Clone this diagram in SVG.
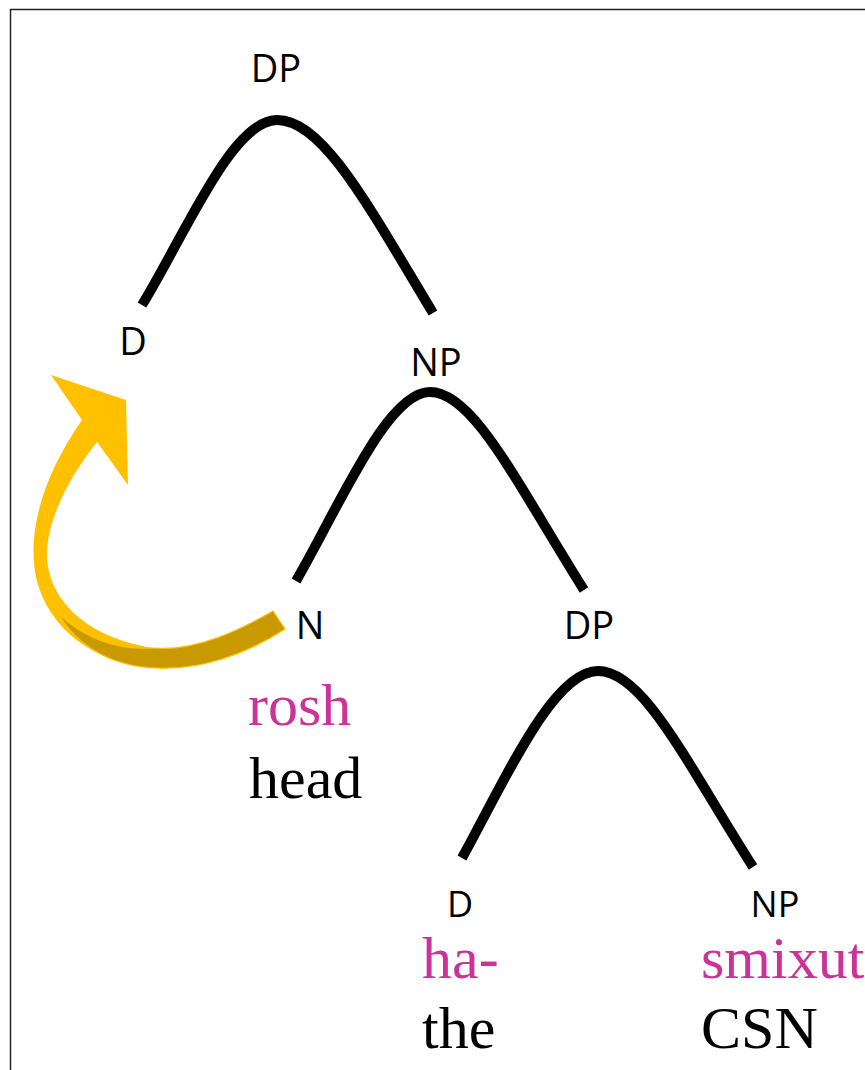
<svg xmlns="http://www.w3.org/2000/svg" width="865" height="1070" viewBox="0 0 865 1070">
<style>
.lbl{font-family:"Open Sans","Liberation Sans",sans-serif;font-size:38px;fill:#000;text-anchor:middle}
.sm{font-size:36px}
.w{font-family:"Liberation Serif","Times New Roman",serif;font-size:60px}
.hb{fill:#CC3399}
.en{fill:#000}
.br{fill:none;stroke:#000;stroke-width:10;stroke-linecap:butt}
</style>
<rect x="10.5" y="9.5" width="900" height="1100" fill="#fff" stroke="#222" stroke-width="1.5"/>
<g id="connectors">
<path class="br" d="M142,305 C185,235 232,120 277,120 C322,120 365,200 433,313"/>
<path class="br" d="M296,581 C340,505 387,392 430,392 C473,392 515,480 584,590"/>
<path class="br" d="M462,858 C505,780 553,671 598,671 C643,671 685,760 753,867"/>
<g id="movement-arrow">
<path fill="#FFC000" d="M51,375 L126,400 L128,485 L97,442 C75,470 50,510 47,550 C45,590 75,635 153,648 C195,652 240,630 273,611 L285,629 C245,655 200,670 157,668 C110,667 55,640 38,585 C25,540 40,480 82,420 Z"/>
<path fill="#C99A00" stroke="#FFC000" stroke-width="1.2" d="M58,613 C85,640 120,650 153,648 C195,652 240,630 273,611 L285,629 C245,655 200,670 157,668 C115,667 78,648 58,613 Z"/>
</g>
</g>
<g id="node-dp-top"><text class="lbl" x="276" y="82">DP</text></g>
<g id="node-d-top"><text class="lbl" x="133" y="355">D</text></g>
<g id="node-np-mid"><text class="lbl" x="436" y="376">NP</text></g>
<g id="node-n"><text class="lbl" x="310" y="639">N</text>
<text class="w hb" x="248" y="725">rosh</text>
<text class="w en" x="249" y="798">head</text></g>
<g id="node-dp-low"><text class="lbl" x="589" y="639">DP</text></g>
<g id="node-d-low"><text class="lbl sm" x="460" y="917">D</text>
<text class="w hb" x="422" y="978">ha-</text>
<text class="w en" x="422" y="1048">the</text></g>
<g id="node-np-low"><text class="lbl sm" x="775" y="917">NP</text>
<text class="w hb" x="701" y="978">smixut</text>
<text class="w en" x="701" y="1048">CSN</text></g>
</svg>
